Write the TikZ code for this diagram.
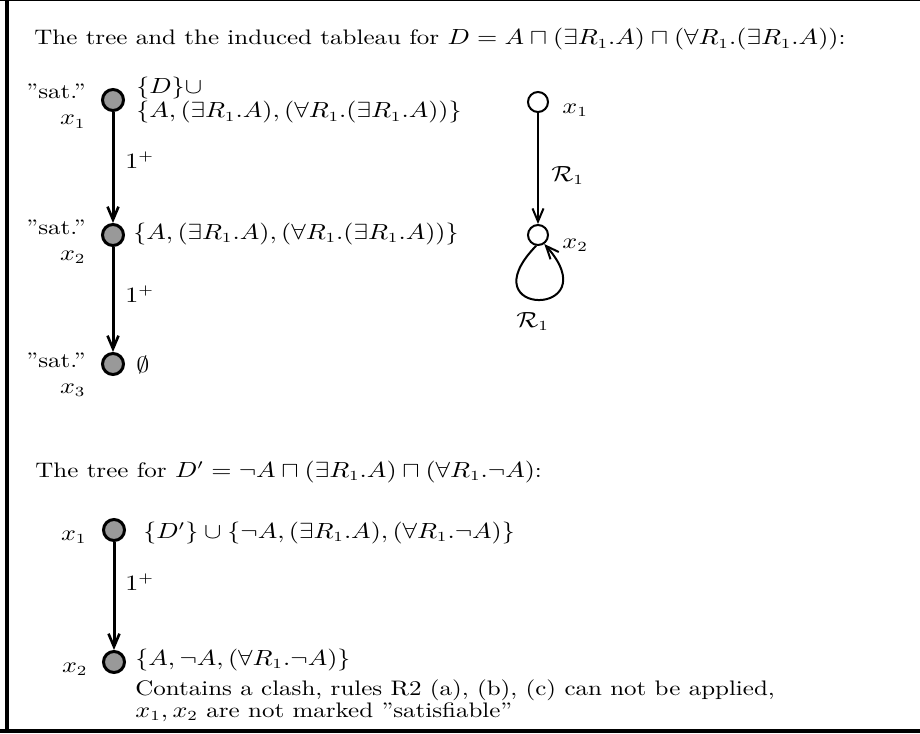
\documentclass[tikz,border=0pt]{standalone}
\usepackage{graphicx}
\usetikzlibrary{arrows.meta}
\newcommand\sx[1]{\scalebox{1.19}[1]{#1}}
\begin{document}
\begin{tikzpicture}[x=0.5pt,y=-0.5pt,font=\fontsize{10.5}{12.6}\selectfont,
  gnode/.style={circle,draw,line width=1.5pt,fill=black!40,inner sep=0pt,minimum size=10.5pt},
  wnode/.style={circle,draw,line width=1pt,fill=white,inner sep=0pt,minimum size=10pt},
  tarrow/.style={line width=1.5pt,-{Straight Barb[length=6.5pt,width=5.5pt,line width=1.3pt]}},
  warrow/.style={line width=1pt,-{Straight Barb[length=6.5pt,width=5.5pt,line width=1pt]}},
  txt/.style={anchor=base west,inner sep=0pt},
  rtxt/.style={anchor=base east,inner sep=0pt}]
\useasboundingbox (0,0) rectangle (920,733);
% frame
\draw[line width=0.5pt] (0,0.5) -- (920,0.5);
\draw[line width=2pt] (7,0) -- (7,733);
\draw[line width=2pt] (0,731) -- (920,731);
% title 1
\node[txt] (title1) at (34,45) {\sx{The tree and the induced tableau for $D = A \sqcap (\exists R_1.A) \sqcap (\forall R_1.(\exists R_1.A))$:}};
% left tree
\node[gnode] (t1) at (113,100) {};
\node[gnode] (t2) at (113,235) {};
\node[gnode] (t3) at (113,364) {};
\node[rtxt] (s1) at (86,98) {\sx{''sat.''}};
\node[rtxt] (l1) at (86,125) {\sx{$x_1$}};
\node[rtxt] (s2) at (86,234) {\sx{''sat.''}};
\node[rtxt] (l2) at (86,260) {\sx{$x_2$}};
\node[rtxt] (s3) at (86,367) {\sx{''sat.''}};
\node[rtxt] (l3) at (86,393) {\sx{$x_3$}};
\node[txt] (c1a) at (136,94) {\sx{$\{D\}\cup$}};
\node[txt] (c1b) at (136,118) {\sx{$\{A, (\exists R_1.A), (\forall R_1.(\exists R_1.A))\}$}};
\node[txt] (c2) at (133,239) {\sx{$\{A, (\exists R_1.A), (\forall R_1.(\exists R_1.A))\}$}};
\node[txt] (c3) at (136,372) {\sx{$\emptyset$}};
\draw[tarrow] (t1) -- (t2);
\draw[tarrow] (t2) -- (t3);
\node[txt] (e1) at (125,168) {\sx{$1^+$}};
\node[txt] (e2) at (125,302) {\sx{$1^+$}};
% right graph
\node[wnode] (r1) at (538,102) {};
\node[wnode] (r2) at (538,235) {};
\node[txt] (rl1) at (562,113) {\sx{$x_1$}};
\node[txt] (rl2) at (562,248) {\sx{$x_2$}};
\draw[warrow] (r1) -- (r2);
\node[txt] (re1) at (551,181) {\sx{$\mathcal{R}_1$}};
\draw[warrow] (r2.-100) .. controls (466,318) and (610,318) .. (r2.-55);
\node[txt] (re2) at (516,327) {\sx{$\mathcal{R}_1$}};
% title 2
\node[txt] (title2) at (35,477) {\sx{The tree for $D' = \neg A \sqcap (\exists R_1.A) \sqcap (\forall R_1.\neg A)$:}};
\node[gnode] (b1) at (114,530) {};
\node[gnode] (b2) at (114,662) {};
\node[rtxt] (bl1) at (87,540) {\sx{$x_1$}};
\node[rtxt] (bl2) at (88,672) {\sx{$x_2$}};
\node[txt] (d1) at (143,538) {\sx{$\{D'\} \cup \{\neg A, (\exists R_1.A), (\forall R_1.\neg A)\}$}};
\draw[tarrow] (b1) -- (b2);
\node[txt] (be1) at (125,590) {\sx{$1^+$}};
\node[txt] (d2) at (135,665) {\sx{$\{A, \neg A, (\forall R_1.\neg A)\}$}};
\node[txt] (d3) at (135,695) {\sx{Contains a clash, rules R2 (a), (b), (c) can not be applied,}};
\node[txt] (d4) at (135,717) {\sx{$x_1, x_2$ are not marked ''satisfiable''}};
\end{tikzpicture}
\end{document}
